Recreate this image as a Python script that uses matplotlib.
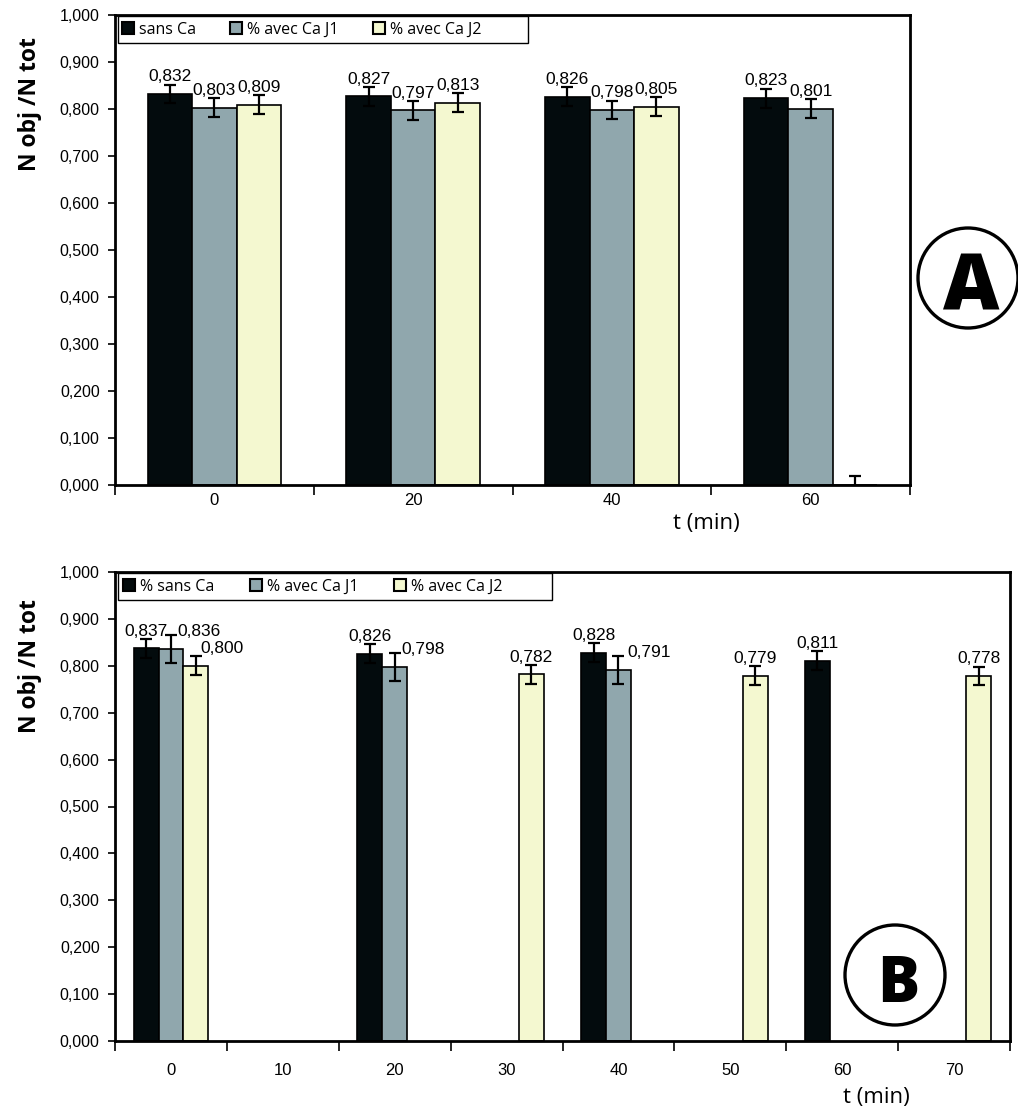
import numpy as np
import matplotlib
matplotlib.use("Agg")
import matplotlib.pyplot as plt
from matplotlib.patches import Ellipse, Rectangle

# panel A data
times_a = ["0", "20", "40", "60"]
sans_ca_a = [0.832, 0.827, 0.826, 0.823]
j1_a = [0.803, 0.797, 0.798, 0.801]
j2_a = [0.809, 0.813, 0.805, 0.0]
err_sans_a = [0.02, 0.02, 0.02, 0.02]
err_j1_a = [0.02, 0.02, 0.02, 0.02]
err_j2_a = [0.02, 0.02, 0.02, 0.02]
labels_a = ["sans Ca", "% avec Ca J1", "% avec Ca J2"]

# panel B data (nan = no bar)
times_b = ["0", "10", "20", "30", "40", "50", "60", "70"]
nan = np.nan
sans_ca_b = [0.837, nan, 0.826, nan, 0.828, nan, 0.811, nan]
j1_b = [0.836, nan, 0.798, nan, 0.791, nan, nan, nan]
j2_b = [0.800, nan, nan, 0.782, nan, 0.779, nan, 0.778]
err_sans_b = [0.02, nan, 0.02, nan, 0.02, nan, 0.02, nan]
err_j1_b = [0.03, nan, 0.03, nan, 0.03, nan, nan, nan]
err_j2_b = [0.02, nan, nan, 0.02, nan, 0.02, nan, 0.02]
labels_b = ["% sans Ca", "% avec Ca J1", "% avec Ca J2"]

colors = ["#030b0d", "#90a7ad", "#f4f8d0"]
TICK_FONT = "Liberation Sans"
TEXT_FONT = "Open Sans"

W, H = 1018, 1113
fig = plt.figure(figsize=(W / 100, H / 100), dpi=100)


def px_axes(x0, y0, x1, y1):
    return fig.add_axes([x0 / W, 1 - y1 / H, (x1 - x0) / W, (y1 - y0) / H])


def fmt(v):
    return f"{v:.3f}".replace(".", ",")


def draw_panel(ax, times, series, errs, names, width, label_shift, xpad, frame_w, colspace):
    n = len(times)
    x = np.arange(n)
    offsets = [-width, 0, width]
    handles = []
    for k, (vals, ev) in enumerate(zip(series, errs)):
        vals = np.array(vals, dtype=float)
        ev = np.array(ev, dtype=float)
        xs = x + offsets[k]
        b = ax.bar(xs, np.nan_to_num(vals), width, color=colors[k], edgecolor="black",
                   linewidth=1.2, label=names[k], zorder=2)
        for i, (xi, v, e) in enumerate(zip(xs, vals, ev)):
            if np.isnan(v):
                b.patches[i].set_visible(False)
                continue
            ax.errorbar(xi, v, yerr=e, fmt="none", ecolor="black", elinewidth=1.6,
                        capsize=4.5, capthick=1.6, zorder=3)
            if v > 0:
                dx = label_shift.get((k, i), 0.0)
                ax.annotate(fmt(v), (xi + dx, v), xytext=(0, 7), textcoords="offset points",
                            ha="center", va="bottom", fontsize=12.5, family=TICK_FONT, zorder=4)
        handles.append(b)

    ax.set_xlim(-0.5, n - 0.5)
    ax.set_ylim(0, 1.0)
    ax.set_yticks(np.arange(0, 1.01, 0.1))
    ax.set_yticklabels([fmt(v) for v in np.arange(0, 1.01, 0.1)], family=TICK_FONT, fontsize=11.5)
    ax.tick_params(axis="y", direction="out", length=5, width=1.2, pad=6)

    ax.set_xticks(np.arange(-0.5, n, 1.0))
    ax.set_xticklabels([])
    ax.set_xticks(x, minor=True)
    ax.set_xticklabels(times, minor=True, family=TICK_FONT, fontsize=12)
    ax.tick_params(axis="x", which="major", direction="out", length=7, width=1.2)
    ax.tick_params(axis="x", which="minor", length=0, pad=xpad)

    for s in ax.spines.values():
        s.set_linewidth(2.0)

    # legend box drawn by hand, entries from the legend
    ax.add_patch(Rectangle((0.0035, 0.9405), frame_w, 0.0575, transform=ax.transAxes,
                           facecolor="white", edgecolor="black", linewidth=1.0, zorder=5))
    leg = ax.legend(handles=handles, loc="center left", ncol=3, bbox_to_anchor=(0.009, 0.969),
                    frameon=False, handlelength=0.75, handleheight=0.75, handletextpad=0.3,
                    columnspacing=colspace, borderpad=0, borderaxespad=0,
                    prop={"family": TEXT_FONT, "size": 11.5})
    leg.set_zorder(6)
    for p in leg.get_patches():
        p.set_linewidth(1.5)

    ax.set_ylabel("N obj /N tot", family=TEXT_FONT, fontsize=16.5, fontweight="bold")


# panel A
axa = px_axes(115, 15, 910, 485)
draw_panel(axa, times_a, [sans_ca_a, j1_a, j2_a], [err_sans_a, err_j1_a, err_j2_a],
           labels_a, 0.224, {}, 6, 0.516, 2.15)
axa.yaxis.set_label_coords(-0.092, 0.81)
fig.text(706 / W, 1 - 523 / H, "t (min)", ha="center", va="center", family=TEXT_FONT, fontsize=16)

# panel B
axb = px_axes(115, 572, 1010, 1041)
shift_b = {(1, 0): 0.25, (2, 0): 0.23, (1, 2): 0.25, (1, 4): 0.27}
draw_panel(axb, times_b, [sans_ca_b, j1_b, j2_b], [err_sans_b, err_j1_b, err_j2_b],
           labels_b, 0.222, shift_b, 16, 0.485, 2.25)
axb.yaxis.set_label_coords(-0.0815, 0.80)
fig.text(876 / W, 1 - 1097 / H, "t (min)", ha="center", va="center", family=TEXT_FONT, fontsize=16)

# circled panel letters
for cx, cy, r, letter, fs in [(968, 278, 50, "A", 56), (895, 975, 50, "B", 45)]:
    fig.add_artist(Ellipse((cx / W, 1 - cy / H), 2 * r / W, 2 * r / H, transform=fig.transFigure,
                           facecolor="none", edgecolor="black", linewidth=2.4, clip_on=False))
    fig.text((cx + 3) / W, 1 - (cy + 2) / H, letter, ha="center", va="center_baseline",
             family=TEXT_FONT, fontsize=fs, fontweight="heavy")

fig.savefig("out.png", dpi=100)
